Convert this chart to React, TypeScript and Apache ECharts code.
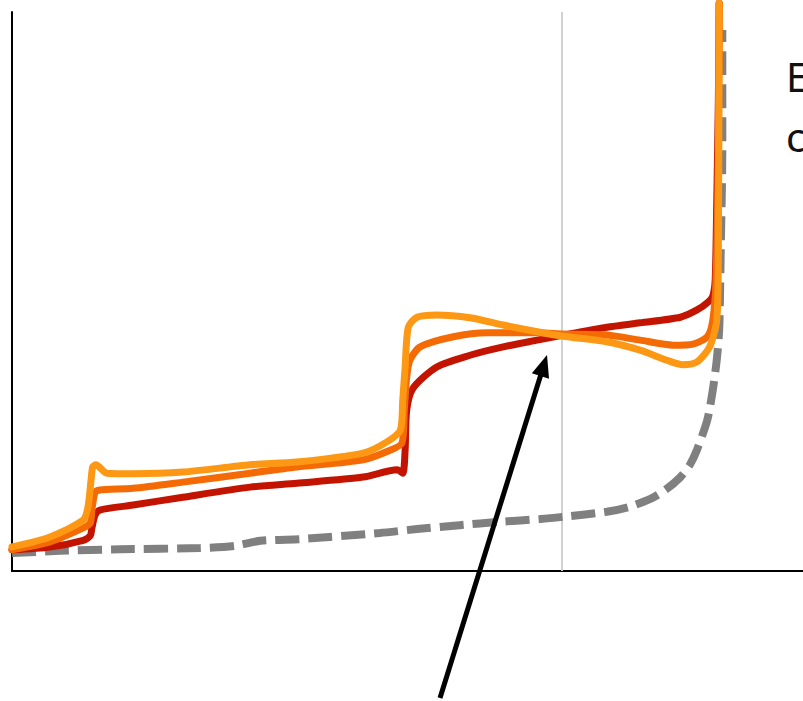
import React, { useEffect, useRef } from "react";
import * as echarts from "echarts";

// Curves as [x, y] pairs on a 0–100 scale for both axes
const baselineCurve: [number, number][] = [
  [0, 3.2], [6.1, 3.6], [13.7, 3.9], [23.8, 4.1], [28.2, 4.5], [31.4, 5.4],
  [36.4, 5.7], [40.2, 6.1], [46.5, 6.8], [51.2, 7.5], [56.6, 8.2], [61.7, 8.8],
  [66.8, 9.3], [69.7, 9.7], [75.2, 10.6], [78.1, 11.5], [80.7, 12.9], [82.6, 14.5],
  [84.5, 16.8], [85.7, 19.0], [86.6, 21.7], [87.9, 27.0], [88.6, 32.4], [89.1, 37.8],
  [89.4, 43.1], [89.5, 48.5], [89.6, 57.4], [89.8, 75.3], [89.8, 96.8],
];

const lowCurve: [number, number][] = [
  [0, 3.8], [4.8, 4.3], [9.0, 5.5], [9.9, 6.3], [10.1, 7.7], [10.5, 10.0],
  [11.1, 10.9], [15.3, 11.8], [21.6, 13.2], [30.1, 15.0], [36.0, 15.7], [44.4, 16.8],
  [48.7, 18.1], [49.4, 17.5], [49.7, 21.6], [49.9, 28.8], [50.7, 32.7], [53.7, 36.5],
  [57.9, 38.6], [62.1, 40.1], [66.4, 41.3], [69.7, 42.2], [75.2, 43.6], [79.4, 44.4],
  [84.5, 45.4], [86.6, 46.7], [88.0, 48.1], [88.6, 49.2], [88.9, 52.1], [89.1, 66.4],
  [89.3, 84.3], [89.4, 101.6],
];

const midCurve: [number, number][] = [
  [0, 3.8], [4.8, 5.2], [9.0, 7.7], [9.9, 8.6], [10.1, 10.9], [10.5, 14.1],
  [11.1, 14.5], [15.3, 14.8], [21.6, 15.9], [30.1, 17.5], [36.0, 18.6], [44.4, 19.9],
  [47.8, 21.6], [49.3, 22.9], [49.6, 28.8], [49.9, 34.7], [50.3, 37.7], [51.6, 40.1],
  [55.8, 41.9], [60.1, 42.6], [66.4, 42.6], [69.7, 42.4], [75.2, 42.2], [79.4, 41.3],
  [83.6, 40.4], [86.1, 40.6], [87.9, 41.9], [88.6, 44.9], [89.0, 52.1], [89.3, 75.3],
  [89.4, 101.6],
];

const highCurve: [number, number][] = [
  [0, 4.3], [4.8, 6.1], [9.0, 9.1], [9.6, 11.4], [10.0, 16.3], [10.2, 18.6],
  [10.6, 19.0], [12.0, 17.5], [15.3, 17.4], [21.6, 17.7], [30.1, 19.0], [36.0, 19.5],
  [44.4, 21.1], [47.4, 23.1], [49.1, 25.2], [49.4, 30.6], [49.7, 36.5], [50.1, 43.6],
  [51.2, 45.4], [53.7, 45.8], [57.9, 45.3], [62.1, 44.0], [66.4, 42.8], [69.7, 42.0],
  [75.2, 41.0], [79.4, 39.5], [82.8, 37.7], [84.8, 36.9], [86.6, 37.4], [88.2, 40.1],
  [89.1, 44.9], [89.3, 57.4], [89.4, 101.6],
];

const markerX = 69.5;
const sideLines = ["E", "c"];

export default function App() {
  const ref = useRef<HTMLDivElement>(null);

  useEffect(() => {
    if (!ref.current) return;
    const chart = echarts.init(ref.current, undefined, { renderer: "svg" });

    const curve = (data: [number, number][], color: string, z: number) => ({
      type: "line",
      data,
      showSymbol: false,
      symbol: "none",
      smooth: 0.25,
      clip: false,
      z,
      lineStyle: { color, width: 7, cap: "round", join: "round" },
      silent: true,
    });

    // arrow geometry
    const tip = [547, 355];
    const tail = [440, 698];
    const dx = tip[0] - tail[0];
    const dy = tip[1] - tail[1];
    const len = Math.hypot(dx, dy);
    const ux = dx / len;
    const uy = dy / len;
    const headLen = 22;
    const headHalf = 9;
    const bx = tip[0] - ux * headLen;
    const by = tip[1] - uy * headLen;

    chart.setOption({
      animation: false,
      grid: { left: 12, right: 0, top: 12, bottom: 130 },
      xAxis: {
        type: "value",
        min: 0,
        max: 100,
        axisLine: { show: true, onZero: false, lineStyle: { color: "#000", width: 2 } },
        axisTick: { show: false },
        axisLabel: { show: false },
        splitLine: { show: false },
      },
      yAxis: {
        type: "value",
        min: 0,
        max: 100,
        axisLine: { show: true, onZero: false, lineStyle: { color: "#000", width: 2 } },
        axisTick: { show: false },
        axisLabel: { show: false },
        splitLine: { show: false },
      },
      series: [
        {
          type: "line",
          data: baselineCurve,
          showSymbol: false,
          symbol: "none",
          smooth: 0.25,
          clip: false,
          z: 2,
          silent: true,
          lineStyle: { color: "#808080", width: 8, type: [24, 9], cap: "butt" },
          markLine: {
            silent: true,
            symbol: "none",
            label: { show: false },
            lineStyle: { color: "#d0d0d0", width: 2, type: "solid" },
            data: [{ xAxis: markerX }],
            z: 1,
          },
        },
        curve(lowCurve, "#c21400", 3),
        curve(midCurve, "#f46a04", 4),
        curve(highCurve, "#fd9814", 5),
      ],
      graphic: [
        {
          type: "line",
          shape: { x1: tail[0], y1: tail[1], x2: bx + ux * 2, y2: by + uy * 2 },
          style: { stroke: "#000", lineWidth: 5 },
          z: 10,
        },
        {
          type: "polygon",
          shape: {
            points: [
              [tip[0], tip[1]],
              [bx - uy * headHalf, by + ux * headHalf],
              [bx + uy * headHalf, by - ux * headHalf],
            ],
          },
          style: { fill: "#000" },
          z: 10,
        },
        ...sideLines.map((t, i) => ({
          type: "text",
          x: 786,
          y: 76 + i * 60,
          style: {
            text: t,
            fill: "#111",
            font: '40px "Noto Sans", sans-serif',
            verticalAlign: "middle",
            align: "left",
          },
          z: 10,
        })),
      ],
    });

    return () => chart.dispose();
  }, []);

  return <div ref={ref} style={{ width: 803, height: 701, position: "absolute", left: 0, top: 0 }} />;
}
